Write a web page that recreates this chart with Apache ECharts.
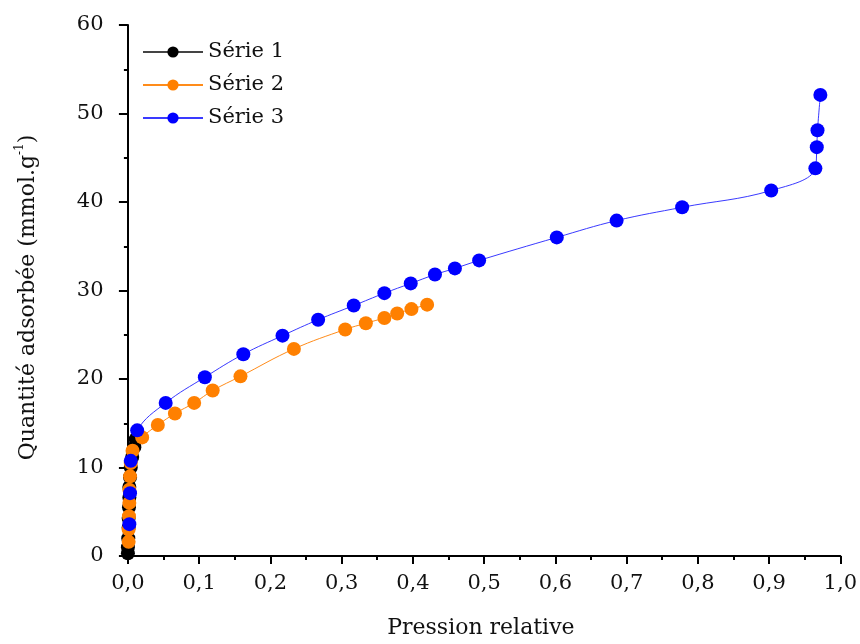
<!DOCTYPE html>
<html>
<head>
<meta charset="utf-8">
<script src="https://cdn.jsdelivr.net/npm/echarts@6/dist/echarts.min.js"></script>
<style>html,body{margin:0;padding:0;background:#fff}#c{width:860px;height:644px}</style>
</head>
<body>
<div id="c"></div>
<script>
// Série 1 (black)
const s1x = [0.000, 0.000, 0.0005, 0.001, 0.001, 0.0015, 0.002, 0.002, 0.003, 0.004, 0.006, 0.009, 0.011];
const s1y = [0.3, 1.0, 2.0, 3.2, 4.3, 5.5, 6.6, 7.8, 8.9, 10.0, 11.2, 12.3, 13.2];
// Série 2 (orange)
const s2x = [0.001, 0.001, 0.0015, 0.002, 0.002, 0.003, 0.004, 0.0065, 0.020, 0.042, 0.066, 0.093, 0.119, 0.158, 0.233, 0.305, 0.334, 0.360, 0.378, 0.398, 0.420];
const s2y = [1.6, 3.0, 4.5, 6.0, 7.5, 9.0, 10.5, 11.9, 13.4, 14.8, 16.1, 17.3, 18.7, 20.3, 23.4, 25.6, 26.3, 26.9, 27.4, 27.9, 28.4];
// Série 3 (blue)
const s3x = [0.002, 0.003, 0.004, 0.013, 0.053, 0.108, 0.162, 0.217, 0.267, 0.317, 0.360, 0.397, 0.431, 0.459, 0.493, 0.602, 0.686, 0.778, 0.903, 0.965, 0.967, 0.968, 0.972];
const s3y = [3.6, 7.1, 10.75, 14.2, 17.3, 20.2, 22.8, 24.9, 26.7, 28.3, 29.7, 30.8, 31.8, 32.5, 33.4, 36.0, 37.9, 39.4, 41.3, 43.8, 46.2, 48.1, 52.1];

const xMajor = [0, 0.1, 0.2, 0.3, 0.4, 0.5, 0.6, 0.7, 0.8, 0.9, 1.0];
const xMinor = [0.05, 0.15, 0.25, 0.35, 0.45, 0.55, 0.65, 0.75, 0.85, 0.95];

const zip = (a, b) => a.map((v, i) => [v, b[i]]);
const FONT = 'DejaVu Serif';

const chart = echarts.init(document.getElementById('c'), null, {renderer: 'canvas'});
const mkSeries = (name, data, mColor, lColor) => ({
  name, type: 'line', data, smooth: 0.4,
  xAxisIndex: 0, yAxisIndex: 0,
  symbol: 'circle', symbolSize: 14,
  itemStyle: {color: mColor},
  lineStyle: {color: lColor, width: 1},
  emphasis: {disabled: true},
  animation: false
});

chart.setOption({
  animation: false,
  backgroundColor: '#fff',
  grid: {left: 121.5, right: 16.5, top: 25, bottom: 85},
  legend: {
    orient: 'vertical', left: 137, top: 36,
    itemWidth: 60, itemHeight: 14, itemGap: 11,
    textStyle: {fontFamily: FONT, fontSize: 21, color: '#111', lineHeight: 22},
    data: ['Série 1', 'Série 2', 'Série 3']
  },
  xAxis: [{
    type: 'value', min: -0.009, max: 1.0,
    name: 'Pression relative', nameLocation: 'middle', nameGap: 61,
    nameTextStyle: {fontFamily: FONT, fontSize: 22, color: '#111'},
    axisLine: {show: true, lineStyle: {color: '#000', width: 2}},
    axisTick: {show: true, customValues: xMajor, length: 8, lineStyle: {color: '#000', width: 2}},
    axisLabel: {show: true, customValues: xMajor, margin: 17, fontFamily: FONT, fontSize: 21, color: '#111',
      formatter: v => v.toFixed(1).replace('.', ',')},
    splitLine: {show: false}
  }, {
    type: 'value', min: -0.009, max: 1.0, position: 'bottom',
    axisLine: {show: false},
    axisTick: {show: true, customValues: xMinor, length: 4, lineStyle: {color: '#000', width: 2}},
    axisLabel: {show: false},
    splitLine: {show: false}
  }],
  yAxis: [{
    type: 'value', min: 0, max: 60, interval: 10,
    name: '{a|Quantité adsorbée (mmol.g}{s|-1}{a|)}', nameLocation: 'middle', nameGap: 82, nameRotate: 90,
    nameTextStyle: {fontFamily: FONT, color: '#111', padding: [0, 14, 0, 0],
      rich: {a: {fontFamily: FONT, fontSize: 22, color: '#111', verticalAlign: 'bottom', lineHeight: 26},
             s: {fontFamily: FONT, fontSize: 12, color: '#111', verticalAlign: 'top', lineHeight: 26}}},
    axisLine: {show: true, lineStyle: {color: '#000', width: 2}},
    axisTick: {show: true, length: 9, lineStyle: {color: '#000', width: 2}},
    minorTick: {show: true, splitNumber: 2, length: 4, lineStyle: {color: '#000', width: 2}},
    axisLabel: {margin: 18, fontFamily: FONT, fontSize: 21, color: '#111'},
    splitLine: {show: false}
  }],
  series: [
    mkSeries('Série 1', zip(s1x, s1y), '#000000', '#444444'),
    mkSeries('Série 2', zip(s2x, s2y), '#ff8000', '#ff8c1a'),
    mkSeries('Série 3', zip(s3x, s3y), '#0000ff', '#3a3aff')
  ]
});
</script>
</body>
</html>
